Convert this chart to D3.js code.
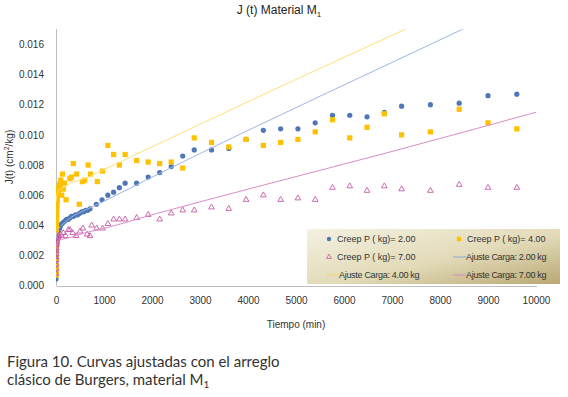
<!DOCTYPE html>
<html lang="es">
    <head>
        <meta charset="utf-8">
        <title>J (t) Material M1</title>
        <script type="text/javascript" src="https://d3js.org/d3.v7.min.js"></script>
        <style type="text/css">
            body {
                margin: 0;
                background: white;
            }
            .axis path,
            .axis line {
                fill: none;
                stroke: #bfbfbf;
                shape-rendering: crispEdges;
            }
            .axis text {
                font-family: "Liberation Sans", Arial, sans-serif;
                font-size: 10px;
                fill: #333;
            }
        </style>
    </head>
    <body>
        <script type="text/javascript">
            //Creep P = 2.00 kg (blue circles)
            var creep2Time = [0, 1, 2, 3, 4, 5, 6, 8, 10, 12, 15, 20, 25, 30,
                              40, 55, 70, 83, 97, 118, 153, 188, 222, 257, 290, 324, 366, 408, 450, 492, 534, 576, 618, 660, 708,
                              840, 960, 1080, 1200, 1320, 1440, 1680, 1920, 2160, 2400, 2640, 2880, 3240, 3600, 3960,
                              4320, 4680, 5040, 5400, 5760, 6120, 6480, 6840, 7200, 7800, 8400, 9000, 9600];
            var creep2J = [0.00045, 0.0008, 0.0011, 0.0014, 0.0017, 0.0020, 0.0023, 0.0026, 0.0028, 0.0030, 0.0032, 0.0033, 0.0034, 0.0035,
                           0.0036, 0.0037, 0.0038, 0.0039, 0.0040, 0.0041, 0.0042, 0.0043, 0.0044, 0.0044, 0.0045, 0.0046, 0.0046, 0.0047, 0.0047, 0.0048, 0.0049, 0.0049, 0.0050, 0.0050, 0.0051,
                           0.0054, 0.0057, 0.0060, 0.0062, 0.0065, 0.0068, 0.0068, 0.0072, 0.0075, 0.0079, 0.0086, 0.0090, 0.0090, 0.0091, 0.0097,
                           0.0103, 0.0104, 0.0104, 0.0108, 0.0113, 0.0113, 0.0112, 0.0115, 0.0119, 0.0120, 0.0121, 0.0126, 0.0127];

            //Creep P = 4.00 kg (yellow squares)
            var creep4Time = [0, 1, 2, 3, 4, 5, 6, 7, 8, 9, 10, 12, 14, 16, 18, 20, 25, 30, 35, 40, 50, 60, 70, 80, 90, 100,
                              120, 135, 150, 175, 210, 290, 320, 360, 430, 485, 550, 600, 670, 720, 860, 970,
                              1080, 1200, 1320, 1440, 1680, 1920, 2160, 2400, 2640, 2880, 3240, 3600, 3960,
                              4320, 4680, 5040, 5400, 5760, 6120, 6480, 6840, 7200, 7800, 8400, 9000, 9600];
            var creep4J = [0.0007, 0.0010, 0.0013, 0.0017, 0.0021, 0.0025, 0.0029, 0.0033, 0.0036, 0.0039, 0.0042, 0.0045, 0.0048, 0.0051, 0.0053, 0.0055, 0.0057, 0.0059, 0.0061, 0.0062, 0.0064, 0.0065, 0.0066, 0.0067, 0.0068, 0.0070,
                           0.0060, 0.0074, 0.0064, 0.0068, 0.0057, 0.0071, 0.0072, 0.0081, 0.0074, 0.0054, 0.0069, 0.0070, 0.0080, 0.0074, 0.0069, 0.0076,
                           0.0093, 0.0087, 0.0080, 0.0087, 0.0083, 0.0082, 0.0081, 0.0082, 0.0078, 0.0098, 0.0095, 0.0092, 0.0097,
                           0.0093, 0.0095, 0.0097, 0.0102, 0.0110, 0.0098, 0.0105, 0.0114, 0.0100, 0.0102, 0.0117, 0.0108, 0.0104];

            //Creep P = 7.00 kg (pink triangles)
            var creep7Time = [0, 1, 2, 3, 4, 5, 6, 8, 10, 12, 15, 20, 25, 30, 40, 50,
                              60, 100, 150, 200, 257, 290, 347, 420, 500, 560, 650, 708, 743, 847, 970,
                              1080, 1200, 1320, 1440, 1680, 1920, 2160, 2400, 2640, 2880, 3240, 3600, 3960,
                              4320, 4680, 5040, 5400, 5760, 6120, 6480, 6840, 7200, 7800, 8400, 9000, 9600];
            var creep7J = [0.0008, 0.0011, 0.0014, 0.0017, 0.0019, 0.0021, 0.0023, 0.0025, 0.0027, 0.0028, 0.0029, 0.0030, 0.0031, 0.0032, 0.0032, 0.0033,
                           0.0033, 0.0034, 0.0035, 0.0033, 0.0037, 0.0037, 0.0035, 0.0033, 0.0036, 0.0038, 0.0034, 0.0033, 0.0040, 0.0038, 0.0038,
                           0.0041, 0.0044, 0.0044, 0.0044, 0.0045, 0.0047, 0.0044, 0.0048, 0.0050, 0.0050, 0.0052, 0.0051, 0.0057,
                           0.0060, 0.0057, 0.0058, 0.0057, 0.0065, 0.0066, 0.0063, 0.0066, 0.0064, 0.0063, 0.0067, 0.0065, 0.0065];

            //Burgers fit curves
            var fitTime = [0, 20, 60, 150, 300, 600, 1000, 2000, 4000, 7000, 10000];
            var fit2J = [0.0031, 0.0035, 0.0038, 0.0041, 0.0045, 0.0050, 0.0056, 0.0072, 0.0103, 0.0148, 0.0193];
            var fit4J = [0.0056, 0.0060, 0.0063, 0.0065, 0.0068, 0.0071, 0.0077, 0.0092, 0.0122, 0.0166, 0.0210];
            var fit7J = [0.0026, 0.0028, 0.0030, 0.0031, 0.0032, 0.0035, 0.0038, 0.0047, 0.0064, 0.0089, 0.0115];

            //Tick labels
            var xTicks = [0, 1000, 2000, 3000, 4000, 5000, 6000, 7000, 8000, 9000, 10000];
            var yTicks = [0, 0.002, 0.004, 0.006, 0.008, 0.010, 0.012, 0.014, 0.016];

            //Colours
            var blue = "#4f76b6";
            var yellow = "#ffc000";
            var pink = "#c55aa8";
            var blueFit = "#9db6e2";
            var yellowFit = "#ffdf7a";
            var pinkFit = "#d98cc6";

            //Width and height
            var w = 568;
            var h = 397;

            //Scales
            var xScale = d3.scaleLinear()
                           .domain([0, 10000])
                           .range([56, 536]);
            var yScale = d3.scaleLinear()
                           .domain([0, 0.017])
                           .range([285.7, 29.3]);

            function zip(t, j) {
                return t.map(function(d, i) { return [d, j[i]]; });
            }

            //Create SVG element
            var svg = d3.select("body")
                        .append("svg")
                        .attr("width", w)
                        .attr("height", h);

            //Clip to plot area
            svg.append("clipPath")
               .attr("id", "plot-area")
               .append("rect")
               .attr("x", 56)
               .attr("y", 29.3)
               .attr("width", 500)
               .attr("height", 257);

            //Title
            var title = svg.append("text")
                           .attr("x", 279)
                           .attr("y", 14)
                           .attr("text-anchor", "middle")
                           .attr("font-family", "Liberation Sans, Arial, sans-serif")
                           .attr("font-size", "12px")
                           .attr("fill", "#222");
            title.append("tspan").text("J (t) Material M");
            title.append("tspan").attr("font-size", "8px").attr("dy", 3).text("1");

            //Y axis
            svg.append("g")
               .attr("class", "axis")
               .attr("transform", "translate(56,0)")
               .call(d3.axisLeft(yScale)
                       .tickValues(yTicks)
                       .tickFormat(d3.format(".3f"))
                       .tickSize(0)
                       .tickPadding(12))
               .select(".domain")
               .attr("d", "M0.5," + yScale(0.017) + "V" + yScale(0));

            //X axis
            svg.append("g")
               .attr("class", "axis")
               .attr("transform", "translate(0," + 285.5 + ")")
               .call(d3.axisBottom(xScale)
                       .tickValues(xTicks)
                       .tickFormat(d3.format("d"))
                       .tickSize(0)
                       .tickPadding(11));

            //Axis titles
            var yLab = svg.append("text")
                          .attr("transform", "translate(13,157) rotate(-90)")
                          .attr("text-anchor", "middle")
                          .attr("font-family", "Liberation Sans, Arial, sans-serif")
                          .attr("font-size", "10px")
                          .attr("fill", "#333");
            yLab.append("tspan").text("J(t) (cm");
            yLab.append("tspan").attr("font-size", "7px").attr("dy", -4).text("2");
            yLab.append("tspan").attr("dy", 4).text("/kg)");

            svg.append("text")
               .attr("x", 296)
               .attr("y", 328)
               .attr("text-anchor", "middle")
               .attr("font-family", "Liberation Sans, Arial, sans-serif")
               .attr("font-size", "10px")
               .attr("fill", "#333")
               .text("Tiempo (min)");

            var plot = svg.append("g").attr("clip-path", "url(#plot-area)");

            //Blue circles
            plot.append("g")
                .selectAll("circle")
                .data(zip(creep2Time, creep2J))
                .enter()
                .append("circle")
                .attr("cx", function(d) { return xScale(d[0]); })
                .attr("cy", function(d) { return yScale(d[1]); })
                .attr("r", 2.6)
                .attr("fill", blue);

            //Yellow squares
            plot.append("g")
                .selectAll("rect")
                .data(zip(creep4Time, creep4J))
                .enter()
                .append("rect")
                .attr("x", function(d) { return xScale(d[0]) - 2.6; })
                .attr("y", function(d) { return yScale(d[1]) - 2.6; })
                .attr("width", 5.2)
                .attr("height", 5.2)
                .attr("fill", yellow);

            //Pink triangles
            var tri = d3.symbol().type(d3.symbolTriangle).size(14);
            plot.append("g")
                .selectAll("path")
                .data(zip(creep7Time, creep7J))
                .enter()
                .append("path")
                .attr("d", tri)
                .attr("transform", function(d) {
                    return "translate(" + xScale(d[0]) + "," + yScale(d[1]) + ")";
                })
                .attr("fill", "none")
                .attr("stroke", pink)
                .attr("stroke-width", 0.9);

            //Fit lines
            var line = d3.line()
                         .x(function(d) { return xScale(d[0]); })
                         .y(function(d) { return yScale(d[1]); })
                         .curve(d3.curveMonotoneX);
            [[fit2J, blueFit], [fit4J, yellowFit], [fit7J, pinkFit]].forEach(function(f) {
                plot.append("path")
                    .datum(zip(fitTime, f[0]))
                    .attr("d", line)
                    .attr("fill", "none")
                    .attr("stroke", f[1])
                    .attr("stroke-width", 1);
            });

            //Legend box
            var grad = svg.append("defs")
                          .append("linearGradient")
                          .attr("id", "legend-grad")
                          .attr("x1", "0").attr("y1", "0")
                          .attr("x2", "1").attr("y2", "1");
            grad.append("stop").attr("offset", "0%").attr("stop-color", "#f4f1e1");
            grad.append("stop").attr("offset", "55%").attr("stop-color", "#e2dab8");
            grad.append("stop").attr("offset", "100%").attr("stop-color", "#b9a873");

            var legend = svg.append("g");
            legend.append("rect")
                  .attr("x", 307)
                  .attr("y", 229)
                  .attr("width", 253)
                  .attr("height", 55)
                  .attr("fill", "url(#legend-grad)");

            var legendItems = [
                {label: "Creep P ( kg)= 2.00", kind: "circle", color: blue, x: 329, y: 239},
                {label: "Creep P ( kg)= 4.00", kind: "square", color: yellow, x: 459, y: 239},
                {label: "Creep P ( kg)= 7.00", kind: "triangle", color: pink, x: 329, y: 257},
                {label: "Ajuste Carga: 2.00 kg", kind: "line", color: "#8ea6cf", x: 459, y: 257},
                {label: "Ajuste Carga: 4.00 kg", kind: "line", color: "#f2d37a", x: 332, y: 275},
                {label: "Ajuste Carga: 7.00 kg", kind: "line", color: "#cf8fc0", x: 459, y: 275}
            ];

            legendItems.forEach(function(d) {
                var g = legend.append("g");
                var tx = d.x + 8;
                if (d.kind == "circle") {
                    g.append("circle").attr("cx", d.x).attr("cy", d.y).attr("r", 2.2).attr("fill", d.color);
                } else if (d.kind == "square") {
                    g.append("rect").attr("x", d.x - 2.2).attr("y", d.y - 2.2).attr("width", 4.4).attr("height", 4.4).attr("fill", d.color);
                } else if (d.kind == "triangle") {
                    g.append("path").attr("d", d3.symbol().type(d3.symbolTriangle).size(11))
                     .attr("transform", "translate(" + d.x + "," + d.y + ")")
                     .attr("fill", "none").attr("stroke", d.color).attr("stroke-width", 0.8);
                } else {
                    g.append("line").attr("x1", d.x - 6).attr("x2", d.x + 7)
                     .attr("y1", d.y).attr("y2", d.y)
                     .attr("stroke", d.color).attr("stroke-width", 1);
                    tx = d.x + 7;
                }
                g.append("text")
                 .attr("x", tx)
                 .attr("y", d.y + 3)
                 .attr("font-family", "Liberation Sans, Arial, sans-serif")
                 .attr("font-size", "9px")
                 .attr("letter-spacing", d.kind == "line" ? "-0.3px" : "0px")
                 .attr("fill", "#333")
                 .text(d.label);
            });

            //Figure caption
            var caption = svg.append("text")
                             .attr("font-family", "Lato, 'Open Sans', sans-serif")
                             .attr("font-size", "15px")
                             .attr("fill", "#333");
            caption.append("tspan").attr("x", 7).attr("y", 367).text("Figura 10. Curvas ajustadas con el arreglo");
            caption.append("tspan").attr("x", 7).attr("y", 385).text("clásico de Burgers, material M");
            caption.append("tspan").attr("font-size", "10px").attr("dy", 3).text("1");
        </script>
    </body>
</html>
